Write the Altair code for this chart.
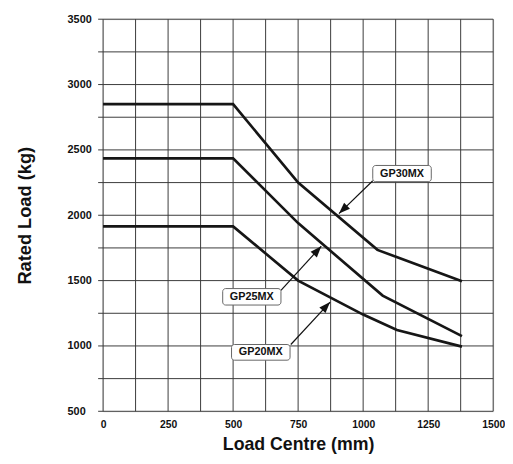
import altair as alt
import pandas as pd

# Curves (Load Centre mm, Rated Load kg)
gp30_x = [0, 500, 750, 1055, 1380]
gp30_y = [2850, 2850, 2250, 1735, 1495]
gp25_x = [0, 500, 750, 1075, 1380]
gp25_y = [2435, 2435, 1940, 1385, 1075]
gp20_x = [0, 500, 750, 1000, 1130, 1380]
gp20_y = [1915, 1915, 1500, 1240, 1122, 995]

# Annotation labels
labels = ["GP30MX", "GP25MX", "GP20MX"]
box_x0 = [1037, 460, 494]
box_x1 = [1262, 684, 719]
box_y0 = [2381, 1439, 1011]
box_y1 = [2257, 1313, 891]
arrow_x0 = [1037, 684, 722]
arrow_y0 = [2264, 1425, 1011]
arrow_x1 = [907, 839, 873]
arrow_y1 = [2013, 1763, 1336]
arrow_angle = [226, 42, 43]

# Axis labels and grid
x_labels = [0, 250, 500, 750, 1000, 1250, 1500]
y_labels = [500, 1000, 1500, 2000, 2500, 3000, 3500]
x_grid = list(range(0, 1501, 125))
y_grid = list(range(500, 3501, 250))

rows = []
for name, xs, ys in [("GP30MX", gp30_x, gp30_y), ("GP25MX", gp25_x, gp25_y), ("GP20MX", gp20_x, gp20_y)]:
    for i, (a, b) in enumerate(zip(xs, ys)):
        rows.append({"series": name, "i": i, "x": a, "y": b})
curves = pd.DataFrame(rows)

ann = pd.DataFrame({
    "label": labels,
    "bx0": box_x0, "bx1": box_x1, "by0": box_y0, "by1": box_y1,
    "ax0": arrow_x0, "ay0": arrow_y0, "ax1": arrow_x1, "ay1": arrow_y1,
    "ang": arrow_angle,
})
ann["cx"] = (ann["bx0"] + ann["bx1"]) / 2
ann["cy"] = (ann["by0"] + ann["by1"]) / 2

FONT = "Liberation Sans"
GRID = "#3a3a3a"

xscale = alt.Scale(domain=[0, 1500], nice=False, zero=False)
yscale = alt.Scale(domain=[500, 3500], nice=False, zero=False)

xaxis = alt.Axis(
    values=x_labels, title="Load Centre (mm)",
    grid=False, domain=False, ticks=False, tickSize=0,
    labelFont=FONT, labelFontSize=10.5, labelFontWeight="bold", labelColor="#111",
    labelPadding=8, labelFlush=False, labelOverlap=False,
    titleFont=FONT, titleFontSize=18, titleFontWeight="bold", titleColor="#111",
    titleBaseline="alphabetic", titleX=198, titleY=39,
    format="d",
)
yaxis = alt.Axis(
    values=y_labels, title="Rated Load (kg)",
    grid=False, domain=False, ticks=False, tickSize=0,
    labelFont=FONT, labelFontSize=11, labelFontWeight="bold", labelColor="#111",
    labelAlign="left", labelPadding=36.5, labelFlush=False, labelOverlap=False,
    titleFont=FONT, titleFontSize=18.5, titleFontWeight="bold", titleColor="#111",
    titleBaseline="alphabetic", titleAngle=270, titleX=-74, titleY=199,
    format="d",
)

lines = alt.Chart(curves).mark_line(color="#161616", strokeWidth=2.7, strokeJoin="miter").encode(
    x=alt.X("x:Q", scale=xscale, axis=xaxis),
    y=alt.Y("y:Q", scale=yscale, axis=yaxis),
    detail="series:N",
    order="i:Q",
)

xg = alt.Chart(pd.DataFrame({"v": x_grid})).mark_rule(color=GRID, strokeWidth=1).encode(
    x=alt.X("v:Q", scale=xscale), y=alt.value(0), y2=alt.value(398),
)
yg = alt.Chart(pd.DataFrame({"v": y_grid})).mark_rule(color=GRID, strokeWidth=1).encode(
    y=alt.Y("v:Q", scale=yscale), x=alt.value(-5), x2=alt.value(396),
)

base = alt.Chart(ann)
shafts = base.mark_rule(color="#111", strokeWidth=1.2).encode(
    x=alt.X("ax0:Q", scale=xscale), y=alt.Y("ay0:Q", scale=yscale),
    x2="ax1:Q", y2="ay1:Q",
)
heads = base.mark_point(
    shape="M0,0L0.75,2L-0.75,2Z", filled=True, color="#111", size=130, opacity=1
).encode(
    x=alt.X("ax1:Q", scale=xscale), y=alt.Y("ay1:Q", scale=yscale),
    angle=alt.Angle("ang:Q", scale=None),
)
boxes = base.mark_rect(fill="white", stroke="#666", strokeWidth=1, cornerRadius=3).encode(
    x=alt.X("bx0:Q", scale=xscale), x2="bx1:Q",
    y=alt.Y("by0:Q", scale=yscale), y2="by1:Q",
)
texts = base.mark_text(font=FONT, fontSize=11, fontWeight="bold", color="#111").encode(
    x=alt.X("cx:Q", scale=xscale), y=alt.Y("cy:Q", scale=yscale), text="label:N",
)

chart = alt.layer(xg, yg, lines, shafts, heads, boxes, texts).properties(
    width=396, height=398,
    autosize=alt.AutoSizeParams(type="none"),
    padding={"left": 96.5, "top": 8, "right": 12, "bottom": 42},
).configure_view(stroke="#111", strokeWidth=1.6).configure_axis(grid=False).configure(background="white")

chart.save("out.html", embed_options={"renderer": "svg", "actions": False})
